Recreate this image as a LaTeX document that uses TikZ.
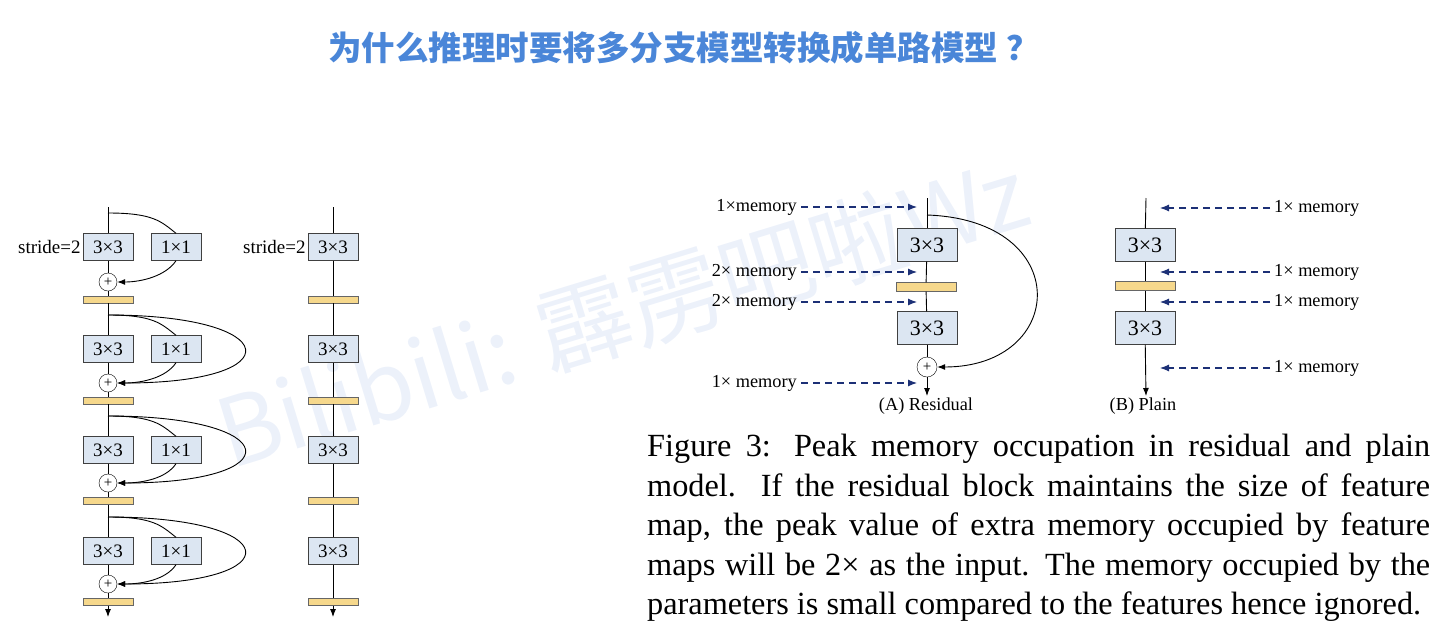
\documentclass[tikz,border=0pt]{standalone}
\usepackage{fontspec}
\setmainfont{Liberation Serif}
\newfontfamily\cjk{Noto Sans CJK SC}
\usepackage{xcolor}
\usepackage{tikz}
\definecolor{convblue}{RGB}{220,230,242}
\definecolor{bnyellow}{RGB}{246,216,140}
\definecolor{memblue}{RGB}{28,48,118}
\definecolor{titleblue}{RGB}{74,134,216}
\definecolor{wmgray}{RGB}{236,241,250}
\newcommand{\wztitle}[1]{\textcolor{titleblue}{#1}}
\usetikzlibrary{arrows.meta}

\begin{document}
\begin{tikzpicture}[x=1pt,y=-1pt,
  conv/.style={draw=black!75,fill=convblue,minimum width=50pt,minimum height=27pt,
    inner sep=0pt,font=\fontsize{19}{19}\selectfont},
  bigconv/.style={conv,minimum width=60pt,minimum height=33pt,font=\fontsize{22}{22}\selectfont},
  bnbar/.style={draw=black!60,fill=bnyellow,minimum width=50pt,minimum height=7pt,inner sep=0pt},
  addop/.style={circle,draw,fill=white,minimum size=18pt,inner sep=0pt,font=\fontsize{15}{15}\selectfont},
  memo/.style={inner sep=4pt,font=\fontsize{18.3}{18.3}\selectfont},
  mem/.style={draw=memblue,dash pattern=on 7pt off 5pt,line width=1.1pt,
    -{Latex[length=9pt,width=7pt]}},
  flow/.style={line width=0.9pt},
  tip/.style={-{Latex[length=8pt,width=6pt]}}
  ]
\useasboundingbox (0,0) rectangle (1449,638);
% watermark
\node[rotate=17,text=wmgray,font=\cjk\fontsize{95}{95}\selectfont] (wm) at (622,312) {Bilibili: 霹雳吧啦Wz};
% title
\node[font=\cjk\bfseries\fontsize{33.5}{33.5}\selectfont] (title) at (684,48)
  {\wztitle{为什么推理时要将多分支模型转换成单路模型 ？}};

% multi-branch (left) and single path (middle)
\foreach \i/\yb/\yc/\ya/\yn in {1/213/247/282/299.5,2/315/349/383/400.5,3/416/450/483/501,4/517/551/584/602}{
  \coordinate (br\i) at (108,\yb);
  \node[conv] (ka\i) at (108,\yc) {3×3};
  \node[conv] (kb\i) at (176,\yc) {1×1};
  \node[addop] (add\i) at (108,\ya) {+};
  \node[bnbar] (bn\i) at (108,\yn) {};
  \node[conv] (pk\i) at (333,\yc) {3×3};
  \node[bnbar] (pn\i) at (333,\yn) {};
}
\node[memo,anchor=east,inner sep=2pt,font=\fontsize{19}{19}\selectfont] (sa) at (ka1.west) {stride=2};
\node[memo,anchor=east,inner sep=2pt,font=\fontsize{19}{19}\selectfont] (sb) at (pk1.west) {stride=2};
\coordinate (lin) at (108,207);
\coordinate (lout) at (108,617);
\coordinate (pin) at (333,207);
\coordinate (pout) at (333,617);
\draw[flow] (lin) -- (ka1);
\draw[flow] (pin) -- (pk1);
\foreach \i in {1,...,4}{
  \draw[flow] (ka\i) -- (add\i);
  \draw[flow] (add\i) -- (bn\i);
  \draw[flow] (pk\i) -- (pn\i);
  \draw[flow] (br\i) .. controls +(45,0) and +(-15,-12) .. (kb\i.north);
  \draw[flow,tip] (kb\i.south) .. controls +(-10,15) and +(25,0) .. (add\i.east);
}
\foreach \i/\j in {1/2,2/3,3/4}{
  \draw[flow] (bn\i) -- (ka\j);
  \draw[flow] (pn\i) -- (pk\j);
  % identity loop
  \draw[flow,tip] (br\j) .. controls +(176,0) and +(176,0) .. (add\j.east);
}
\draw[flow,tip] (bn4) -- (lout);
\draw[flow,tip] (pn4) -- (pout);

% (A) Residual
\coordinate (rin) at (927,198);
\coordinate (rbr) at (927,215);
\node[bigconv] (ra) at (927,245) {3×3};
\node[bnbar,minimum width=60pt,minimum height=9pt] (rbn) at (926,287) {};
\node[bigconv] (rb) at (927,328) {3×3};
\node[addop,minimum size=20pt] (radd) at (927,367) {+};
\coordinate (rout) at (927,396);
\node[memo,inner sep=0pt] (rlab) at (926,406) {(A) Residual};
\draw[flow] (rin) -- (ra);
\draw[flow] (ra) -- (rbn);
\draw[flow] (rbn) -- (rb);
\draw[flow] (rb) -- (radd);
\draw[flow,tip] (radd) -- (rout);
\draw[flow,tip] (rbr) .. controls +(148,5) and +(130,0) .. (radd.east);
\foreach \i/\y/\t in {1/207/1×memory,2/272/2× memory,3/302/2× memory,4/383/1× memory}{
  \coordinate (ma\i) at (917,\y);
  \node[memo,anchor=east] (la\i) at (801,\y) {\t};
  \draw[mem] (la\i.east) -- (ma\i);
}

% (B) Plain
\coordinate (qin) at (1146,198);
\node[bigconv] (qa) at (1145,245) {3×3};
\node[bnbar,minimum width=60pt,minimum height=9pt] (qbn) at (1145,286) {};
\node[bigconv] (qb) at (1145,328) {3×3};
\coordinate (qout) at (1146,396);
\node[memo,inner sep=0pt] (qlab) at (1143,406) {(B) Plain};
\draw[flow] (qin) -- (qa);
\draw[flow] (qa) -- (qbn);
\draw[flow] (qbn) -- (qb);
\draw[flow,tip] (qb) -- (qout);
\foreach \i/\y in {1/208,2/272,3/302,4/368}{
  \coordinate (mb\i) at (1160,\y);
  \node[memo,anchor=west] (lb\i) at (1270,\y) {1× memory};
  \draw[mem] (lb\i.west) -- (mb\i);
}

% caption
\node[anchor=north west,text width=783pt,align=justify,inner sep=0pt,
  font=\fontsize{32.3}{39.5}\selectfont] (cap) at (647,434)
  {\hyphenpenalty=10000 Figure 3: Peak memory occupation in residual and plain\linebreak
  model. If the residual block maintains the size of feature\linebreak
  map, the peak value of extra memory occupied by feature\linebreak
  maps will be 2× as the input. The memory occupied by the\linebreak
  parameters is small compared to the features hence ignored.\parfillskip=0pt};
\end{tikzpicture}
\end{document}
